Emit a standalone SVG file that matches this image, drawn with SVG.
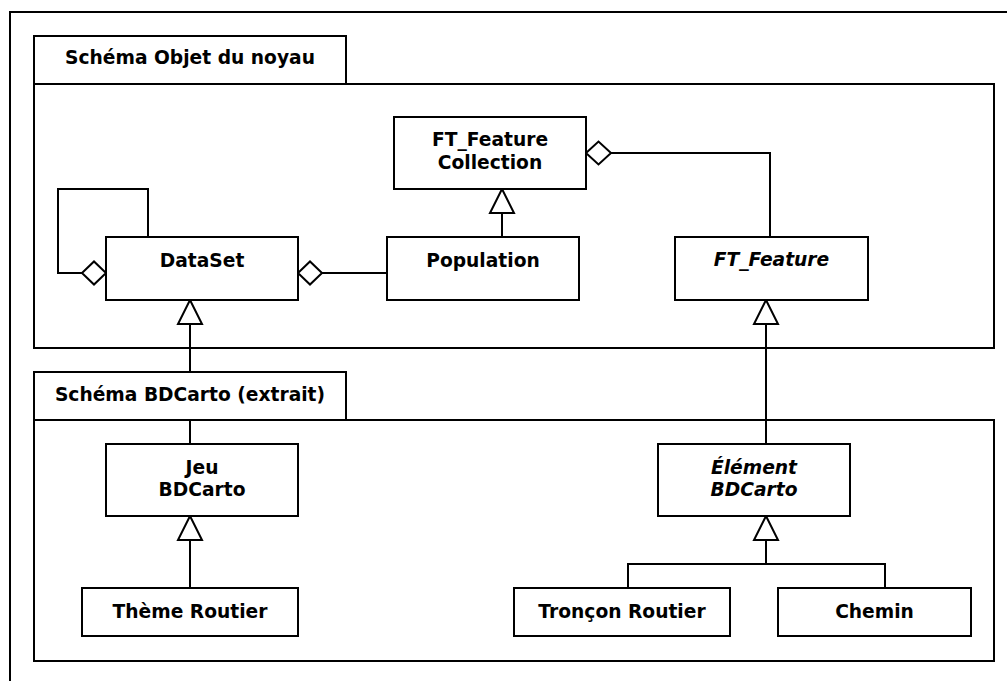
<svg xmlns="http://www.w3.org/2000/svg" width="1007" height="681" viewBox="0 0 1007 681">
<style>
.box{fill:#fff;stroke:#000;stroke-width:2}
.ln{fill:none;stroke:#000;stroke-width:2}
.hd{fill:#fff;stroke:#000;stroke-width:2;stroke-linejoin:miter}
text{font-family:"DejaVu Sans","Verdana",sans-serif;font-weight:bold;font-size:18.67px;fill:#000;text-anchor:middle}
.it{font-style:italic}
</style>
<rect width="1007" height="681" fill="#fff"/>
<g id="frame"><rect class="ln" x="10" y="12" width="1010" height="690"/></g>
<g id="pkg-noyau">
<rect class="box" x="34" y="84" width="960" height="264"/>
<rect class="box" x="34" y="36" width="312" height="48"/>
<text x="190" y="64">Schéma Objet du noyau</text>
</g>
<g id="pkg-bdcarto">
<rect class="box" x="34" y="420" width="960" height="241"/>
</g>
<g id="connectors">
<path class="ln" d="M148,237 V189 H58 V273 H82"/>
<polygon class="hd" points="82,273 94,261.5 106,273 94,284.5"/>
<path class="ln" d="M322,273 H387"/>
<polygon class="hd" points="298,273 310,261.5 322,273 310,284.5"/>
<path class="ln" d="M502,237 V213"/>
<polygon class="hd" points="502,189 514,213 490,213"/>
<path class="ln" d="M611,153 H770 V237"/>
<polygon class="hd" points="586,153 598.5,141.5 611,153 598.5,164.5"/>
<path class="ln" d="M190,444 V419 M190,372 V324"/>
<polygon class="hd" points="190,300 202,324 178,324"/>
<path class="ln" d="M766,444 V324"/>
<polygon class="hd" points="766,300 778,324 754,324"/>
<path class="ln" d="M190,588 V540"/>
<polygon class="hd" points="190,516 202,540 178,540"/>
<path class="ln" d="M766,540 V564 M628,588 V564 H885 V588"/>
<polygon class="hd" points="766,516 778,540 754,540"/>
</g>
<g id="pkg-bdcarto-tab">
<rect class="box" x="34" y="372" width="312" height="48"/>
<text x="190" y="401">Schéma BDCarto (extrait)</text>
</g>
<g id="DataSet">
<rect class="box" x="106" y="237" width="192" height="63"/>
<text x="202" y="267">DataSet</text>
</g>
<g id="Population">
<rect class="box" x="387" y="237" width="192" height="63"/>
<text x="483" y="267">Population</text>
</g>
<g id="FT_FeatureCollection">
<rect class="box" x="394" y="117" width="192" height="72"/>
<text x="490" y="146">FT_Feature</text>
<text x="490" y="168.5">Collection</text>
</g>
<g id="FT_Feature">
<rect class="box" x="675" y="237" width="193" height="63"/>
<text class="it" x="771.5" y="266">FT_Feature</text>
</g>
<g id="JeuBDCarto">
<rect class="box" x="106" y="444" width="192" height="72"/>
<text x="202" y="473.5">Jeu</text>
<text x="202" y="495.5">BDCarto</text>
</g>
<g id="ThemeRoutier">
<rect class="box" x="82" y="588" width="216" height="48"/>
<text x="190" y="617.5">Thème Routier</text>
</g>
<g id="ElementBDCarto">
<rect class="box" x="658" y="444" width="192" height="72"/>
<text class="it" x="754" y="474">Élément</text>
<text class="it" x="754" y="495.5">BDCarto</text>
</g>
<g id="TronconRoutier">
<rect class="box" x="514" y="588" width="216" height="48"/>
<text x="622" y="618">Tronçon Routier</text>
</g>
<g id="Chemin">
<rect class="box" x="778" y="588" width="193" height="48"/>
<text x="874.5" y="618">Chemin</text>
</g>
</svg>
